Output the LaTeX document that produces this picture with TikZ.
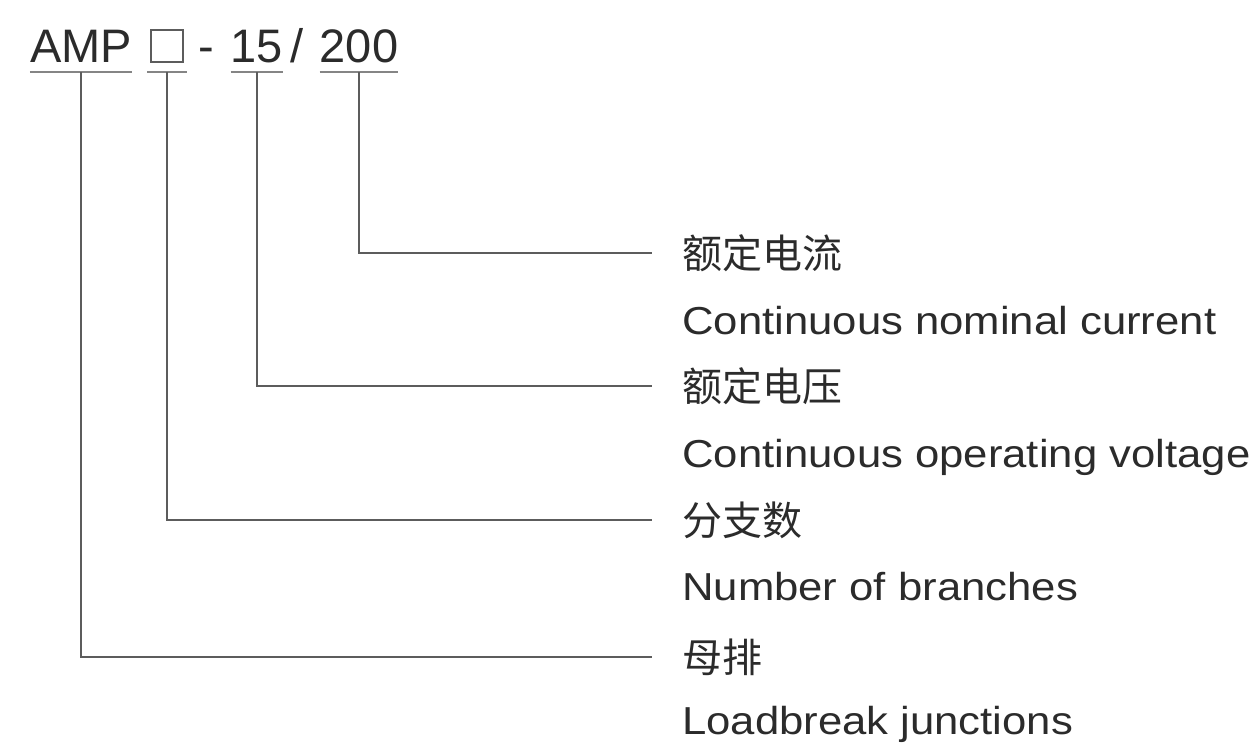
\documentclass[tikz,border=0pt]{standalone}
\usepackage{fontspec}
\usepackage{graphicx}
\setmainfont{Liberation Sans}
\newfontfamily\cjk{Noto Sans CJK SC}
\usetikzlibrary{positioning}
\definecolor{ink}{HTML}{2B2B2B}
\definecolor{wire}{HTML}{5C5C5C}
\newcommand{\wide}[1]{\scalebox{1.12}[1]{#1}}

\begin{document}
\begin{tikzpicture}[
    x=1pt, y=-1pt,
    code/.style = {
      anchor=base,
      inner xsep=0pt,
      inner ysep=10pt,
      text depth=0pt,
      text=ink,
      font=\fontsize{47}{56}\selectfont
    },
    sq/.style = {draw=wire, line width=2pt, minimum size=32pt, inner sep=0pt},
    cn/.style = {anchor=west, inner sep=0pt, text=ink, font=\cjk\fontsize{40}{48}\selectfont},
    en/.style = {anchor=base west, inner sep=0pt, text=ink, font=\fontsize{39}{47}\selectfont},
    uline/.style = {draw=wire!75, line width=2.5pt},
    lead/.style = {draw=wire, line width=2.5pt, shorten >=30pt}
  ]
\useasboundingbox (0,0) rectangle (1257,744);

% model code
\node[code] (amp) at (81,62) {AMP};
\node[code, minimum width=39pt] (brn) at (167,62) {\phantom{A}};
\node[sq] (box) at (brn.center) {};
\node[code] (dash) at (206,62) {-};
\node[code] (volt) at (257,62) {15};
\node[code] (slash) at (297,62) {/};
\node[code] (amps) at (359,62) {200};

\draw[uline] (amp.south west) -- (amp.south east);
\draw[uline] (brn.south west) -- (brn.south east);
\draw[uline] (volt.south west) -- (volt.south east);
\draw[uline] (amps.south west) -- (amps.south east);

% labels
\node[cn] (ampscn) at (682,253) {额定电流};
\node[en] (ampsen) at (682,334) {\wide{Continuous nominal current}};
\node[cn] (voltcn) at (682,386) {额定电压};
\node[en] (volten) at (682,467) {\wide{Continuous operating voltage}};
\node[cn] (brncn) at (682,520) {分支数};
\node[en] (brnen) at (682,600) {\wide{Number of branches}};
\node[cn] (ampcn) at (682,657) {母排};
\node[en] (ampen) at (682,734) {\wide{Loadbreak junctions}};

\draw[lead] (amps.south) |- (ampscn.west);
\draw[lead] (volt.south) |- (voltcn.west);
\draw[lead] (brn.south) |- (brncn.west);
\draw[lead] (amp.south) |- (ampcn.west);
\end{tikzpicture}
\end{document}
